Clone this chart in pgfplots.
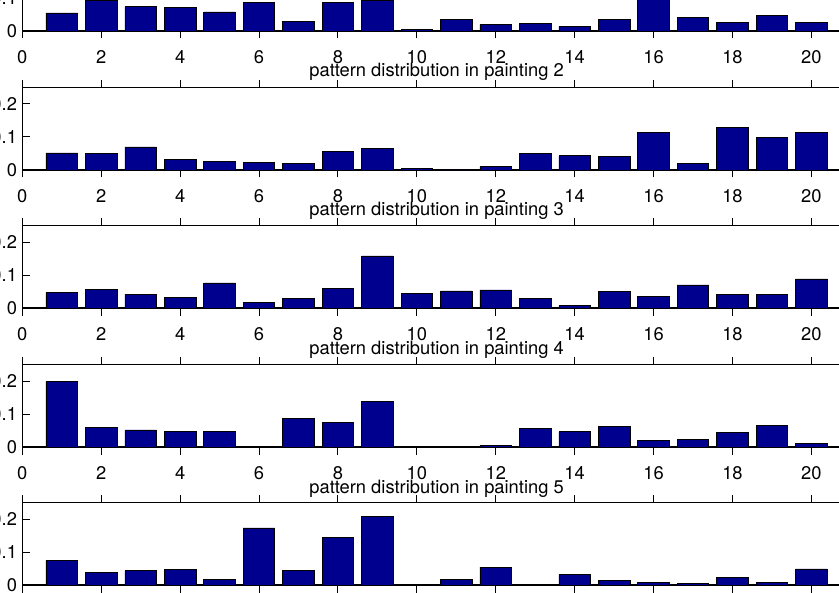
\documentclass[border=0pt]{standalone}
\usepackage{fontspec}
\setmainfont{TeX Gyre Heros}
\usepackage{pgfplots}
\pgfplotsset{compat=1.18}

\definecolor{barblue}{RGB}{0,0,143}

% one panel of the stacked figure, sizes taken from the 839x592 reference (1px = 0.6pt)
\pgfplotsset{
  panel/.style={
    scale only axis,
    width=497.1pt, height=49.5pt,
    anchor=south west,
    xmin=0, xmax=21, ymin=0, ymax=0.25,
    xtick={0,2,...,20}, ytick={0,0.1,0.2},
    tick align=inside, tick pos=both,
    major tick length=4.5pt,
    axis line style={line width=0.8pt},
    every tick/.style={black, line width=0.6pt},
    /pgf/number format/assume math mode=true,
    tick label style={font=\fontsize{11}{13}\selectfont, inner sep=0pt},
    xticklabel style={anchor=base, yshift=-15pt},
    yticklabel style={/pgf/number format/fixed, xshift=-3pt},
    label style={font=\fontsize{11}{13}\selectfont, inner sep=0pt},
    xlabel style={at={(axis description cs:0.5,0)}, anchor=base, yshift=-27.6pt},
    ybar, bar width=0.8,
  },
  pbar/.style={fill=barblue, draw=black, line width=0.4pt, bar shift=0pt},
}

\begin{document}
\begin{tikzpicture}
\useasboundingbox (-13.38pt,-4.2pt) rectangle (490pt,351pt);
\clip (-13.38pt,-4.2pt) rectangle (490pt,351pt);

\begin{axis}[panel, at={(0pt,332.4pt)}, xlabel={pattern distribution in painting 2}]
\addplot[pbar] coordinates {
 (1,0.055) (2,0.092) (3,0.074) (4,0.071) (5,0.058) (6,0.087) (7,0.028)
 (8,0.086) (9,0.092) (10,0.006) (11,0.034) (12,0.020) (13,0.024) (14,0.013)
 (15,0.035) (16,0.120) (17,0.040) (18,0.026) (19,0.048) (20,0.027)};
\end{axis}

\begin{axis}[panel, at={(0pt,249pt)}, xlabel={pattern distribution in painting 3}]
\addplot[pbar] coordinates {
 (1,0.052) (2,0.050) (3,0.070) (4,0.031) (5,0.025) (6,0.022) (7,0.019)
 (8,0.057) (9,0.065) (10,0.006) (11,0) (12,0.010) (13,0.050) (14,0.043)
 (15,0.042) (16,0.113) (17,0.021) (18,0.130) (19,0.099) (20,0.113)};
\end{axis}

\begin{axis}[panel, at={(0pt,166.2pt)}, xlabel={pattern distribution in painting 4}]
\addplot[pbar] coordinates {
 (1,0.047) (2,0.057) (3,0.042) (4,0.033) (5,0.076) (6,0.018) (7,0.028)
 (8,0.059) (9,0.158) (10,0.045) (11,0.052) (12,0.055) (13,0.028) (14,0.007)
 (15,0.051) (16,0.035) (17,0.070) (18,0.041) (19,0.040) (20,0.088)};
\end{axis}

\begin{axis}[panel, at={(0pt,82.8pt)}, xlabel={pattern distribution in painting 5}]
\addplot[pbar] coordinates {
 (1,0.199) (2,0.060) (3,0.052) (4,0.046) (5,0.047) (6,0) (7,0.086)
 (8,0.075) (9,0.138) (10,0) (11,0) (12,0.005) (13,0.057) (14,0.046)
 (15,0.063) (16,0.019) (17,0.024) (18,0.045) (19,0.066) (20,0.011)};
\end{axis}

\begin{axis}[panel, at={(0pt,0pt)}, xlabel={pattern distribution in painting 6}]
\addplot[pbar] coordinates {
 (1,0.075) (2,0.038) (3,0.043) (4,0.048) (5,0.018) (6,0.173) (7,0.043)
 (8,0.144) (9,0.209) (10,0) (11,0.016) (12,0.054) (13,0) (14,0.032)
 (15,0.015) (16,0.009) (17,0.006) (18,0.023) (19,0.007) (20,0.049)};
\end{axis}
\end{tikzpicture}
\end{document}
